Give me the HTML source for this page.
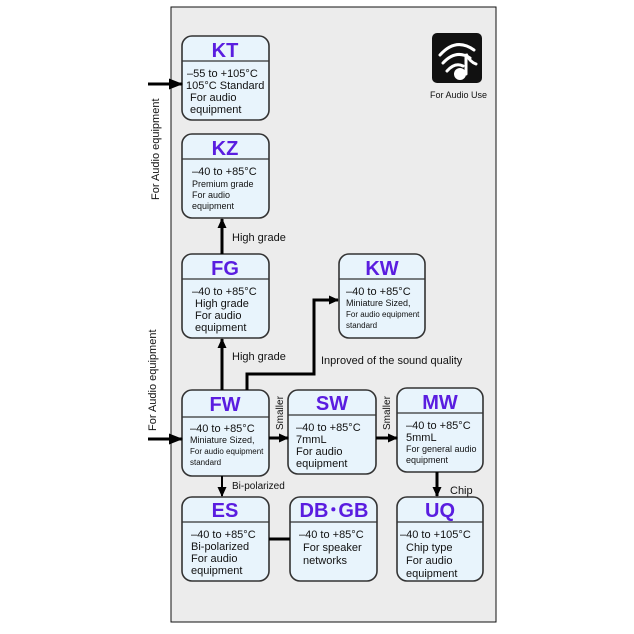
<!DOCTYPE html>
<html><head><style>
body{margin:0;background:#fff}
svg{display:block}
text{font-family:"Liberation Sans",sans-serif;fill:#111}
.t{font-size:20px;font-weight:bold;fill:#5a1de0;text-anchor:middle}
.b{font-size:11px}
.s{font-size:9px}
</style></head><body>
<svg width="634" height="634" viewBox="0 0 634 634">
<defs>
<marker id="a" markerWidth="10" markerHeight="9" refX="9" refY="4.5" orient="auto" markerUnits="userSpaceOnUse"><path d="M0,0 L10,4.5 L0,9 z" fill="#000"/></marker>
<marker id="A" markerWidth="14" markerHeight="11" refX="13" refY="5.5" orient="auto" markerUnits="userSpaceOnUse"><path d="M0,0 L14,5.5 L0,11 z" fill="#000"/></marker>
</defs>
<rect x="171" y="7" width="325" height="615" fill="#ececec" stroke="#111" stroke-width="1"/>
<g stroke="#333" stroke-width="1.6" fill="#e8f4fc">
<rect x="182" y="36" width="87" height="84" rx="10"/>
<rect x="182" y="134" width="87" height="84" rx="10"/>
<rect x="182" y="254" width="87" height="84" rx="10"/>
<rect x="339" y="254" width="86" height="84" rx="10"/>
<rect x="182" y="390" width="87" height="86" rx="10"/>
<rect x="288" y="390" width="88" height="84" rx="10"/>
<rect x="397" y="388" width="86" height="84" rx="10"/>
<rect x="182" y="497" width="87" height="84" rx="10"/>
<rect x="290" y="497" width="87" height="84" rx="10"/>
<rect x="397" y="497" width="86" height="84" rx="10"/>
</g>
<g stroke="#333" stroke-width="1.2">
<line x1="182" y1="61" x2="269" y2="61"/>
<line x1="182" y1="159" x2="269" y2="159"/>
<line x1="182" y1="279" x2="269" y2="279"/>
<line x1="339" y1="279" x2="425" y2="279"/>
<line x1="182" y1="417" x2="269" y2="417"/>
<line x1="288" y1="415" x2="376" y2="415"/>
<line x1="397" y1="413" x2="483" y2="413"/>
<line x1="182" y1="522" x2="269" y2="522"/>
<line x1="290" y1="522" x2="377" y2="522"/>
<line x1="397" y1="522" x2="483" y2="522"/>
</g>
<text class="t" x="225" y="57">KT</text>
<text class="t" x="225" y="155">KZ</text>
<text class="t" x="225" y="275">FG</text>
<text class="t" x="382" y="275">KW</text>
<text class="t" x="225" y="411">FW</text>
<text class="t" x="332" y="410">SW</text>
<text class="t" x="440" y="409">MW</text>
<text class="t" x="225" y="517">ES</text>
<text class="t" x="334" y="517">DB･GB</text>
<text class="t" x="440" y="517">UQ</text>

<text class="b" x="187" y="77">–55 to +105°C</text>
<text class="b" x="186" y="89">105°C Standard</text>
<text class="b" x="190" y="101">For audio</text>
<text class="b" x="190" y="113">equipment</text>

<text class="b" x="192" y="175">–40 to +85°C</text>
<text class="s" x="192" y="187">Premium grade</text>
<text class="s" x="192" y="198">For audio</text>
<text class="s" x="192" y="209">equipment</text>

<text class="b" x="192" y="295">–40 to +85°C</text>
<text class="b" x="195" y="307">High grade</text>
<text class="b" x="195" y="319">For audio</text>
<text class="b" x="195" y="331">equipment</text>

<text class="b" x="346" y="295">–40 to +85°C</text>
<text class="s" x="346" y="306">Miniature Sized,</text>
<text class="s" x="346" y="317" style="font-size:8px">For audio equipment</text>
<text class="s" x="346" y="328" style="font-size:8px">standard</text>

<text class="b" x="190" y="432">–40 to +85°C</text>
<text class="s" x="190" y="443">Miniature Sized,</text>
<text class="s" x="190" y="454" style="font-size:8px">For audio equipment</text>
<text class="s" x="190" y="465" style="font-size:8px">standard</text>

<text class="b" x="296" y="431">–40 to +85°C</text>
<text class="b" x="296" y="443">7mmL</text>
<text class="b" x="296" y="455">For audio</text>
<text class="b" x="296" y="467">equipment</text>

<text class="b" x="406" y="429">–40 to +85°C</text>
<text class="b" x="406" y="441">5mmL</text>
<text class="s" x="406" y="452">For general audio</text>
<text class="s" x="406" y="463">equipment</text>

<text class="b" x="191" y="538">–40 to +85°C</text>
<text class="b" x="191" y="550">Bi-polarized</text>
<text class="b" x="191" y="562">For audio</text>
<text class="b" x="191" y="574">equipment</text>

<text class="b" x="299" y="538">–40 to +85°C</text>
<text class="b" x="303" y="551">For speaker</text>
<text class="b" x="303" y="564">networks</text>

<text class="b" x="400" y="538">–40 to +105°C</text>
<text class="b" x="406" y="551">Chip type</text>
<text class="b" x="406" y="564">For audio</text>
<text class="b" x="406" y="577">equipment</text>

<g stroke="#000" stroke-width="3" fill="none">
<line x1="222" y1="254" x2="222" y2="219" marker-end="url(#a)"/>
<line x1="222" y1="390" x2="222" y2="339" marker-end="url(#a)"/>
<polyline points="247,390 247,374 314,374 314,300 338,300" marker-end="url(#a)"/>
<line x1="269" y1="438" x2="288" y2="438" marker-end="url(#a)"/>
<line x1="376" y1="438" x2="397" y2="438" marker-end="url(#a)"/>
<line x1="437" y1="472" x2="437" y2="496" marker-end="url(#a)"/>
<line x1="222" y1="476" x2="222" y2="496" stroke-width="2" marker-end="url(#a)"/>
<line x1="269" y1="539" x2="290" y2="539"/>
<line x1="148" y1="84" x2="182" y2="84" marker-end="url(#A)"/>
<line x1="148" y1="439" x2="182" y2="439" marker-end="url(#A)"/>
</g>
<text class="b" x="232" y="241">High grade</text>
<text class="b" x="232" y="360">High grade</text>
<text class="b" x="321" y="364">Inproved of the sound quality</text>
<text class="s" x="232" y="489" style="font-size:10px">Bi-polarized</text>
<text class="b" x="450" y="494">Chip</text>
<text class="s" transform="translate(283,430) rotate(-90)" style="font-size:10px">Smaller</text>
<text class="s" transform="translate(390,430) rotate(-90)" style="font-size:10px">Smaller</text>
<text class="b" transform="translate(159,200) rotate(-90)">For Audio equipment</text>
<text class="b" transform="translate(156,431) rotate(-90)">For Audio equipment</text>

<rect x="432" y="33" width="50" height="50" rx="5" fill="#111"/>
<g stroke="#fff" stroke-width="3" fill="none" stroke-linecap="round">
<path d="M440,55 Q456,37 474,50"/>
<path d="M443,63 Q456,49 470,58"/>
<path d="M447,71 Q455,62 463,66"/>
<path d="M466,74 L466,54 Q470,62 476,64"/>
</g>
<circle cx="460" cy="74" r="6" fill="#fff"/>
<text x="430" y="98" style="font-size:9px">For Audio Use</text>
</svg>
</body></html>
